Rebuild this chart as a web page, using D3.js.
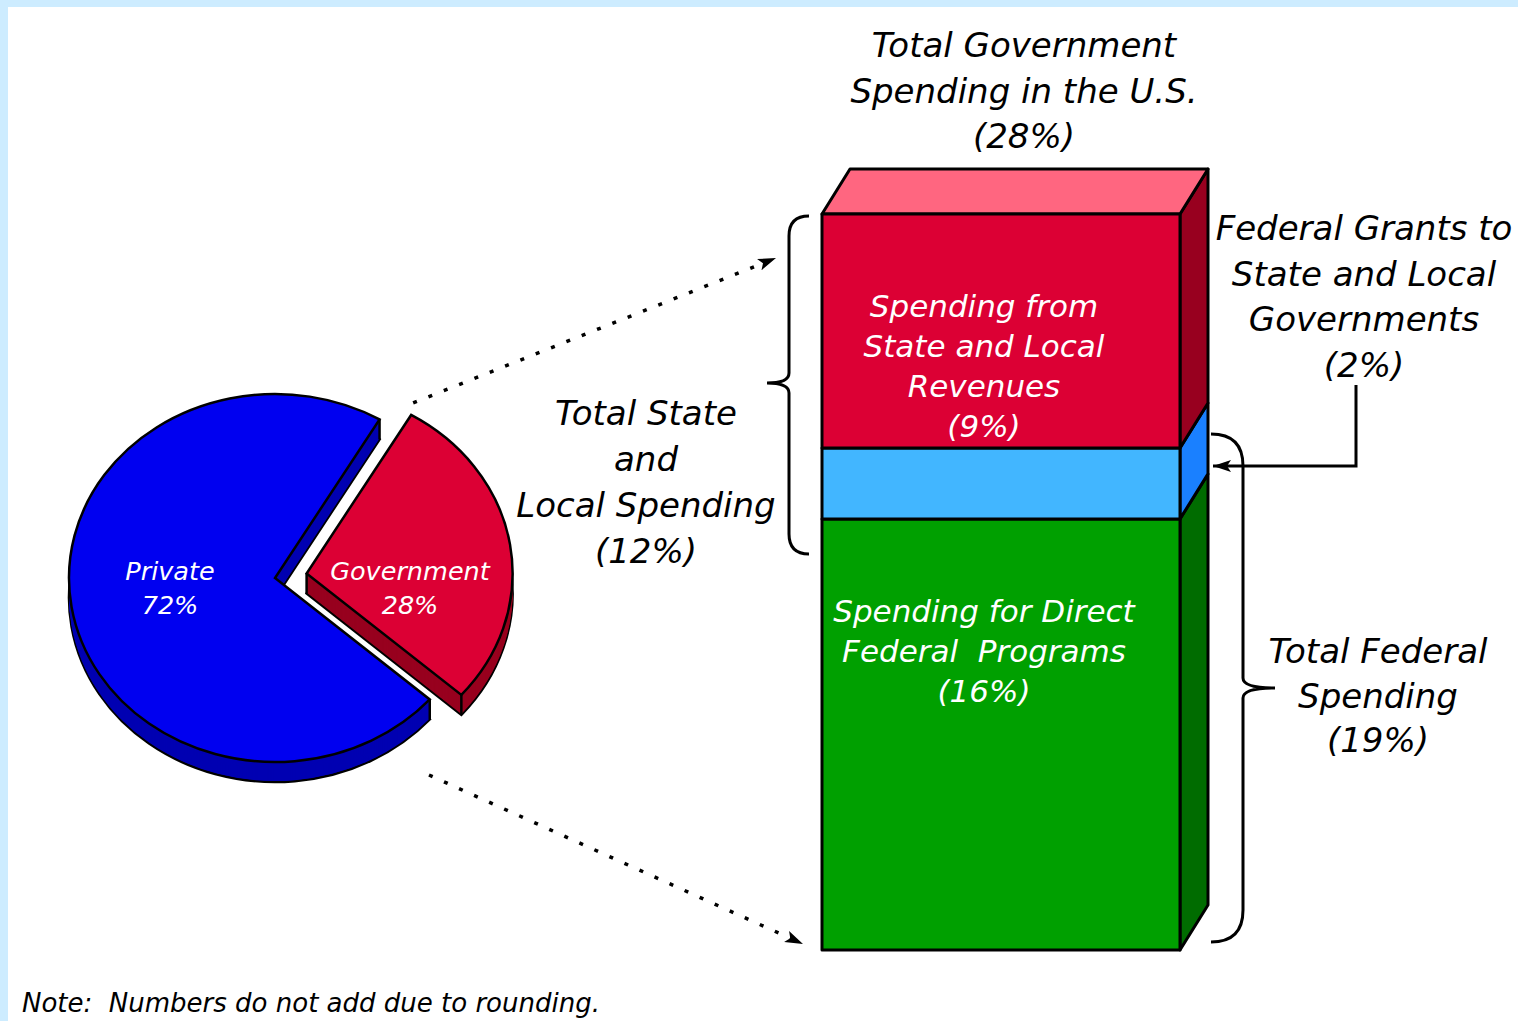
<!DOCTYPE html>
<html><head><meta charset="utf-8">
<script src="https://cdn.jsdelivr.net/npm/d3@7"></script>
<style>
html,body{margin:0;padding:0;background:#fff;}
svg{display:block;}
text{font-family:"DejaVu Sans",sans-serif;font-style:italic;white-space:pre;}
</style></head><body>
<svg id="c" width="1518" height="1021"></svg>
<script>
// ---------- data ----------
const pieCategories = ["Government", "Private"];
const pieValues = [28, 72];
const pieLabels = [["Government", "28%"], ["Private", "72%"]];

const barCategories = ["Direct Federal Programs", "Federal Grants", "State and Local Revenues"];
const barValues = [16.4, 2.7, 8.9];
const barLabels = [["Spending for Direct", "Federal  Programs", "(16%)"], [], ["Spending from", "State and Local", "Revenues", "(9%)"]];

const titleLines = ["Total Government", "Spending in the U.S.", "(28%)"];
const grantsLines = ["Federal Grants to", "State and Local", "Governments", "(2%)"];
const stateLines = ["Total State", "and", "Local Spending", "(12%)"];
const federalLines = ["Total Federal", "Spending", "(19%)"];
const noteText = "Note:  Numbers do not add due to rounding.";

// ---------- styles ----------
const pieTop = {"Government": "#dc0034", "Private": "#0000f0"};
const pieSide = {"Government": "#98001f", "Private": "#0000b2"};
const barFront = ["#00a000", "#42b6ff", "#dc0034"];
const barSide = ["#006c00", "#1a80ff", "#98001f"];
const barTopColor = "#ff6680";

const svg = d3.select("#c");
svg.append("rect").attr("x", 0).attr("y", 0).attr("width", 1518).attr("height", 7).attr("fill", "#cdecff");
svg.append("rect").attr("x", 0).attr("y", 0).attr("width", 8).attr("height", 1021).attr("fill", "#cdecff");

const defs = svg.append("defs");
defs.append("marker").attr("id", "ah").attr("markerUnits", "userSpaceOnUse")
  .attr("markerWidth", 20).attr("markerHeight", 14).attr("refX", 18).attr("refY", 7)
  .attr("orient", "auto")
  .append("path").attr("d", "M0,1 L18,7 L0,13 L4,7 Z").attr("fill", "#000");

// ---------- pie ----------
const cx = 275, cy = 578, rx = 206, ry = 184, depth = 20, explode = 32;
const start = 30.5 * Math.PI / 180;
const pie = d3.pie().sort(null).startAngle(start).endAngle(start + 2 * Math.PI);
const arcs = pie(pieValues).map((a, i) => Object.assign(a, {name: pieCategories[i], label: pieLabels[i]}));
const arcGen = d3.arc().innerRadius(0).outerRadius(rx);
const k = ry / rx;
const pt = (ang, r, ox, oy) => [cx + ox + r * Math.sin(ang), cy + oy - r * k * Math.cos(ang)];

const pieG = svg.append("g");
[arcs[1], arcs[0]].forEach(a => {
  const mid = (a.startAngle + a.endAngle) / 2;
  const e = a.name === "Government" ? explode : 0;
  const ox = e * Math.sin(mid), oy = -e * Math.cos(mid) * k;
  const g = pieG.append("g");
  for (let dz = depth; dz >= 1; dz--) {
    g.append("path")
      .attr("transform", `translate(${cx + ox},${cy + oy + dz}) scale(1,${k})`)
      .attr("d", arcGen(a))
      .attr("fill", pieSide[a.name])
      .attr("stroke", dz === depth ? "#000" : "none")
      .attr("stroke-width", 2.5)
      .attr("vector-effect", "non-scaling-stroke");
  }
  const corners = [pt(0, 0, ox, oy), pt(a.startAngle, rx, ox, oy), pt(a.endAngle, rx, ox, oy)];
  corners.forEach(c => {
    g.append("line").attr("x1", c[0]).attr("y1", c[1]).attr("x2", c[0]).attr("y2", c[1] + depth)
      .attr("stroke", "#000").attr("stroke-width", 2.5);
  });
  g.append("path")
    .attr("transform", `translate(${cx + ox},${cy + oy}) scale(1,${k})`)
    .attr("d", arcGen(a))
    .attr("fill", pieTop[a.name])
    .attr("stroke", "#000").attr("stroke-width", 2.5)
    .attr("vector-effect", "non-scaling-stroke");
});
const pieLabelPos = {"Private": [170, 580], "Government": [410, 580]};
arcs.forEach(a => {
  const p = pieLabelPos[a.name];
  const t = svg.append("text").attr("text-anchor", "middle").attr("fill", "#fff")
    .attr("font-size", 25.5);
  a.label.forEach((l, i) => t.append("tspan").attr("x", p[0]).attr("y", p[1] + i * 34).text(l));
});

// ---------- stacked 3D bar ----------
const x = d3.scaleBand().domain(["Government Spending"]).range([822, 1180]).padding(0);
const y = d3.scaleLinear().domain([0, 28]).range([950, 214]);
const row = {};
barCategories.forEach((c, i) => row[c] = barValues[i]);
const stack = d3.stack().keys(barCategories)([row]);
const dx = 28, dy = -45;
const bx0 = x("Government Spending"), bx1 = bx0 + x.bandwidth();
const barG = svg.append("g").attr("stroke", "#000").attr("stroke-width", 3).attr("stroke-linejoin", "round");
stack.forEach((s, i) => {
  const y0 = y(s[0][0]), y1 = y(s[0][1]);
  barG.append("path")
    .attr("d", `M${bx1},${y1} L${bx1 + dx},${y1 + dy} L${bx1 + dx},${y0 + dy} L${bx1},${y0} Z`)
    .attr("fill", barSide[i]);
});
const ytop = y(d3.sum(barValues));
barG.append("path")
  .attr("d", `M${bx0},${ytop} L${bx0 + dx},${ytop + dy} L${bx1 + dx},${ytop + dy} L${bx1},${ytop} Z`)
  .attr("fill", barTopColor);
stack.forEach((s, i) => {
  const y0 = y(s[0][0]), y1 = y(s[0][1]);
  barG.append("rect").attr("x", bx0).attr("y", y1).attr("width", x.bandwidth()).attr("height", y0 - y1)
    .attr("fill", barFront[i]);
});
stack.forEach((s, i) => {
  const lines = barLabels[i];
  if (!lines.length) return;
  const t = svg.append("text").attr("text-anchor", "middle").attr("fill", "#fff").attr("font-size", 31);
  lines.forEach((l, j) => t.append("tspan").attr("x", bx0 + x.bandwidth() / 2 - 17)
    .attr("y", y(s[0][1]) + 103 + j * 40).text(l));
});

// ---------- annotations ----------
function textBlock(lines, cxp, y0, step, size) {
  const t = svg.append("text").attr("text-anchor", "middle").attr("fill", "#000").attr("font-size", size);
  lines.forEach((l, i) => t.append("tspan").attr("x", cxp).attr("y", y0 + i * step).text(l));
}
textBlock(titleLines, 1024, 57, 45.5, 34);
textBlock(grantsLines, 1364, 240, 45.5, 34);
textBlock(stateLines, 646, 425, 46, 34);
textBlock(federalLines, 1378, 663, 44.5, 34);
svg.append("text").attr("x", 22).attr("y", 1012).attr("font-size", 26).attr("fill", "#000").text(noteText);

function bracePath(xb, y0, y1, ym, dir, hook, tip) {
  return `M${xb - dir * hook},${y0} Q${xb},${y0} ${xb},${y0 + hook}` +
    ` L${xb},${ym - 10} Q${xb},${ym} ${xb + dir * tip},${ym}` +
    ` Q${xb},${ym} ${xb},${ym + 10} L${xb},${y1 - hook} Q${xb},${y1} ${xb - dir * hook},${y1}`;
}
const yGreenTop = y(barValues[0]);
const yBlueTop = y(barValues[0] + barValues[1]);
svg.append("path").attr("d", bracePath(789, ytop + 2, yGreenTop + 35, 383, -1, 20, 22))
  .attr("fill", "none").attr("stroke", "#000").attr("stroke-width", 3);
svg.append("path").attr("d", bracePath(1243, yBlueTop - 14, y(0) - 8, (yBlueTop - 14 + y(0) - 8) / 2, 1, 32, 32))
  .attr("fill", "none").attr("stroke", "#000").attr("stroke-width", 3);
svg.append("path").attr("d", `M1356,385 L1356,${yGreenTop - 53} L1213,${yGreenTop - 53}`)
  .attr("fill", "none").attr("stroke", "#000").attr("stroke-width", 3).attr("marker-end", "url(#ah)");
const govArc = arcs[0];
const gMid = (govArc.startAngle + govArc.endAngle) / 2;
const gox = explode * Math.sin(gMid), goy = -explode * Math.cos(gMid) * k;
const cTop = pt(govArc.startAngle, rx, gox, goy);
svg.append("line").attr("x1", cTop[0] + 2).attr("y1", cTop[1] - 12).attr("x2", 776).attr("y2", 258)
  .attr("stroke", "#000").attr("stroke-width", 3.5).attr("stroke-dasharray", "4,12.5")
  .attr("marker-end", "url(#ah)");
svg.append("line").attr("x1", 429).attr("y1", 775).attr("x2", 803).attr("y2", 944)
  .attr("stroke", "#000").attr("stroke-width", 3.5).attr("stroke-dasharray", "4,12.5")
  .attr("marker-end", "url(#ah)");
</script>
</body></html>
